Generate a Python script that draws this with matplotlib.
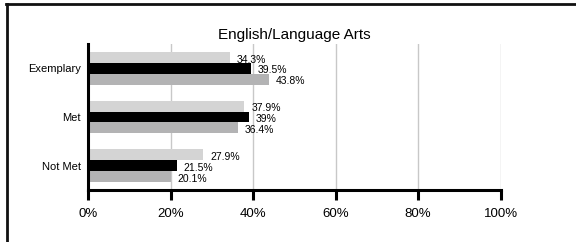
import matplotlib
matplotlib.use("Agg")
import matplotlib.pyplot as plt
from matplotlib.lines import Line2D
import numpy as np

plt.rcParams['font.family'] = ['Liberation Sans', 'DejaVu Sans']

categories = ["Exemplary", "Met", "Not Met"]
series_a = [34.3, 37.9, 27.9]   # light gray
series_b = [39.5, 39.0, 21.5]   # black
series_c = [43.8, 36.4, 20.1]   # mid gray
labels_a = ["34.3%", "37.9%", "27.9%"]
labels_b = ["39.5%", "39%", "21.5%"]
labels_c = ["43.8%", "36.4%", "20.1%"]
xticks = [0, 20, 40, 60, 80, 100]
xticklabels = ["0%", "20%", "40%", "60%", "80%", "100%"]
title = "English/Language Arts"

fig = plt.figure(figsize=(5.76, 2.42), dpi=100)
ax = fig.add_axes([0.1528, 0.2149, 0.7163, 0.6033])

y = np.arange(len(categories))
h = 0.222
colors = ["#d4d4d4", "#000000", "#b3b3b4"]
for off, vals, labs, col in [(-h, series_a, labels_a, colors[0]),
                             (0, series_b, labels_b, colors[1]),
                             (h, series_c, labels_c, colors[2])]:
    ax.barh(y + off, vals, height=h, color=col, zorder=2)
    for yi, v, lab in zip(y + off, vals, labs):
        ax.annotate(lab, (v, yi), xytext=(5, -1.5), textcoords="offset points",
                    ha="left", va="center", fontsize=7.5, zorder=3)

ax.set_xlim(0, 100)
ax.set_ylim(2.5, -0.5)
ax.set_xticks(xticks)
ax.set_xticklabels(xticklabels, fontsize=9.5)
ax.set_yticks(y)
ax.set_yticklabels(categories, fontsize=8)
ax.tick_params(axis='y', length=0, pad=5)
ax.tick_params(axis='x', direction='out', length=7, width=2.2, pad=6)
for s in ["top", "right"]:
    ax.spines[s].set_visible(False)
ax.spines["left"].set_linewidth(2.2)
ax.spines["bottom"].set_linewidth(2.2)
ax.xaxis.grid(True, color="#c8c8c8", linewidth=1.0, zorder=0)
ax.set_axisbelow(True)
fig.text(0.5104, 1 - 35 / 242, title, ha="center", va="center", fontsize=11)

# frame lines (top and left)
fig.add_artist(Line2D([6 / 576, 1], [1 - 4 / 242, 1 - 4 / 242], color="#111111", linewidth=2.0, transform=fig.transFigure))
fig.add_artist(Line2D([6.5 / 576, 6.5 / 576], [0, 1 - 4 / 242], color="#111111", linewidth=2.0, transform=fig.transFigure))

fig.savefig("out.png", dpi=100)
